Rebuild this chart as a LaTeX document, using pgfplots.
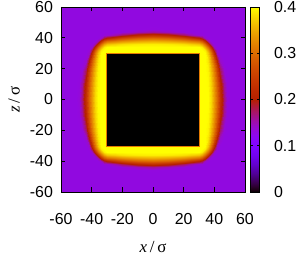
\documentclass[border=0pt]{standalone}
\usepackage{fontspec}
\setmainfont{Liberation Sans}
\newfontfamily\serif{Liberation Serif}
\usepackage{pgfplots}
\pgfplotsset{compat=1.18}
\usepackage{pgfplotstable}
\definecolor{sqedge}{rgb}{0.90,0.48,0.00}
\pgfplotsset{colormap={gp}{
rgb(0pt)=(0,0,0); rgb(1pt)=(0.1,0,0.063); rgb(3pt)=(0.173,0,0.187); rgb(5pt)=(0.224,0,0.309);
rgb(10pt)=(0.316,0.001,0.588); rgb(15pt)=(0.387,0.003,0.809); rgb(20pt)=(0.447,0.008,0.951);
rgb(25pt)=(0.5,0.016,1); rgb(30pt)=(0.548,0.027,0.951); rgb(35pt)=(0.592,0.043,0.809);
rgb(40pt)=(0.632,0.064,0.588); rgb(45pt)=(0.671,0.091,0.309); rgb(50pt)=(0.707,0.125,0);
rgb(55pt)=(0.742,0.166,0); rgb(60pt)=(0.775,0.216,0); rgb(65pt)=(0.806,0.275,0);
rgb(70pt)=(0.837,0.343,0); rgb(75pt)=(0.866,0.422,0); rgb(80pt)=(0.894,0.512,0);
rgb(85pt)=(0.922,0.614,0); rgb(90pt)=(0.949,0.729,0); rgb(95pt)=(0.975,0.857,0);
rgb(100pt)=(1,1,0)}}
% one quadrant of the density field (x>=0, z>=0); the field is mirror symmetric
\pgfplotstableread[row sep=\\]{
x z v\\
0 0 0.4\\ 10 0 0.4\\ 20 0 0.4\\ 25 0 0.4\\ 30 0 0.40\\ 32 0 0.40\\ 34 0 0.40\\ 36 0 0.40\\ 38 0 0.38\\ 40 0 0.34\\ 42 0 0.295\\ 44 0 0.235\\ 46 0 0.168\\ 48 0 0.135\\ 50 0 0.13\\ 52 0 0.13\\ 60 0 0.13\\
0 10 0.4\\ 10 10 0.4\\ 20 10 0.4\\ 25 10 0.4\\ 30 10 0.40\\ 32 10 0.40\\ 34 10 0.40\\ 36 10 0.398\\ 38 10 0.375\\ 40 10 0.334\\ 42 10 0.284\\ 44 10 0.219\\ 46 10 0.157\\ 48 10 0.132\\ 50 10 0.13\\ 52 10 0.13\\ 60 10 0.13\\
0 20 0.4\\ 10 20 0.4\\ 20 20 0.4\\ 25 20 0.4\\ 30 20 0.40\\ 32 20 0.40\\ 34 20 0.40\\ 36 20 0.394\\ 38 20 0.360\\ 40 20 0.314\\ 42 20 0.251\\ 44 20 0.176\\ 46 20 0.135\\ 48 20 0.13\\ 50 20 0.13\\ 52 20 0.13\\ 60 20 0.13\\
0 25 0.4\\ 10 25 0.4\\ 20 25 0.4\\ 25 25 0.4\\ 30 25 0.40\\ 32 25 0.40\\ 34 25 0.40\\ 36 25 0.387\\ 38 25 0.342\\ 40 25 0.285\\ 42 25 0.205\\ 44 25 0.142\\ 46 25 0.13\\ 48 25 0.13\\ 50 25 0.13\\ 52 25 0.13\\ 60 25 0.13\\
0 30 0.4\\ 10 30 0.4\\ 20 30 0.4\\ 25 30 0.4\\ 30 30 0.40\\ 32 30 0.40\\ 34 30 0.40\\ 36 30 0.369\\ 38 30 0.309\\ 40 30 0.224\\ 42 30 0.144\\ 44 30 0.13\\ 46 30 0.13\\ 48 30 0.13\\ 50 30 0.13\\ 52 30 0.13\\ 60 30 0.13\\
0 32 0.4\\ 10 32 0.4\\ 20 32 0.4\\ 25 32 0.4\\ 30 32 0.40\\ 32 32 0.40\\ 34 32 0.389\\ 36 32 0.342\\ 38 32 0.276\\ 40 32 0.186\\ 42 32 0.134\\ 44 32 0.13\\ 46 32 0.13\\ 48 32 0.13\\ 50 32 0.13\\ 52 32 0.13\\ 60 32 0.13\\
0 34 0.4\\ 10 34 0.4\\ 20 34 0.4\\ 25 34 0.4\\ 30 34 0.40\\ 32 34 0.389\\ 34 34 0.351\\ 36 34 0.299\\ 38 34 0.221\\ 40 34 0.144\\ 42 34 0.13\\ 44 34 0.13\\ 46 34 0.13\\ 48 34 0.13\\ 50 34 0.13\\ 52 34 0.13\\ 60 34 0.13\\
0 36 0.391\\ 10 36 0.389\\ 20 36 0.382\\ 25 36 0.373\\ 30 36 0.364\\ 32 36 0.342\\ 34 36 0.299\\ 36 36 0.230\\ 38 36 0.155\\ 40 36 0.13\\ 42 36 0.13\\ 44 36 0.13\\ 46 36 0.13\\ 48 36 0.13\\ 50 36 0.13\\ 52 36 0.13\\ 60 36 0.13\\
0 38 0.352\\ 10 38 0.346\\ 20 38 0.331\\ 25 38 0.317\\ 30 38 0.301\\ 32 38 0.276\\ 34 38 0.221\\ 36 38 0.155\\ 38 38 0.131\\ 40 38 0.13\\ 42 38 0.13\\ 44 38 0.13\\ 46 38 0.13\\ 48 38 0.13\\ 50 38 0.13\\ 52 38 0.13\\ 60 38 0.13\\
0 40 0.301\\ 10 40 0.291\\ 20 40 0.263\\ 25 40 0.238\\ 30 40 0.209\\ 32 40 0.186\\ 34 40 0.144\\ 36 40 0.13\\ 38 40 0.13\\ 40 40 0.13\\ 42 40 0.13\\ 44 40 0.13\\ 46 40 0.13\\ 48 40 0.13\\ 50 40 0.13\\ 52 40 0.13\\ 60 40 0.13\\
0 42 0.231\\ 10 42 0.215\\ 20 42 0.177\\ 25 42 0.153\\ 30 42 0.138\\ 32 42 0.134\\ 34 42 0.13\\ 36 42 0.13\\ 38 42 0.13\\ 40 42 0.13\\ 42 42 0.13\\ 44 42 0.13\\ 46 42 0.13\\ 48 42 0.13\\ 50 42 0.13\\ 52 42 0.13\\ 60 42 0.13\\
0 44 0.157\\ 10 44 0.146\\ 20 44 0.133\\ 25 44 0.13\\ 30 44 0.13\\ 32 44 0.13\\ 34 44 0.13\\ 36 44 0.13\\ 38 44 0.13\\ 40 44 0.13\\ 42 44 0.13\\ 44 44 0.13\\ 46 44 0.13\\ 48 44 0.13\\ 50 44 0.13\\ 52 44 0.13\\ 60 44 0.13\\
0 46 0.131\\ 10 46 0.13\\ 20 46 0.13\\ 25 46 0.13\\ 30 46 0.13\\ 32 46 0.13\\ 34 46 0.13\\ 36 46 0.13\\ 38 46 0.13\\ 40 46 0.13\\ 42 46 0.13\\ 44 46 0.13\\ 46 46 0.13\\ 48 46 0.13\\ 50 46 0.13\\ 52 46 0.13\\ 60 46 0.13\\
0 48 0.13\\ 10 48 0.13\\ 20 48 0.13\\ 25 48 0.13\\ 30 48 0.13\\ 32 48 0.13\\ 34 48 0.13\\ 36 48 0.13\\ 38 48 0.13\\ 40 48 0.13\\ 42 48 0.13\\ 44 48 0.13\\ 46 48 0.13\\ 48 48 0.13\\ 50 48 0.13\\ 52 48 0.13\\ 60 48 0.13\\
0 50 0.13\\ 10 50 0.13\\ 20 50 0.13\\ 25 50 0.13\\ 30 50 0.13\\ 32 50 0.13\\ 34 50 0.13\\ 36 50 0.13\\ 38 50 0.13\\ 40 50 0.13\\ 42 50 0.13\\ 44 50 0.13\\ 46 50 0.13\\ 48 50 0.13\\ 50 50 0.13\\ 52 50 0.13\\ 60 50 0.13\\
0 52 0.13\\ 10 52 0.13\\ 20 52 0.13\\ 25 52 0.13\\ 30 52 0.13\\ 32 52 0.13\\ 34 52 0.13\\ 36 52 0.13\\ 38 52 0.13\\ 40 52 0.13\\ 42 52 0.13\\ 44 52 0.13\\ 46 52 0.13\\ 48 52 0.13\\ 50 52 0.13\\ 52 52 0.13\\ 60 52 0.13\\
0 60 0.13\\ 10 60 0.13\\ 20 60 0.13\\ 25 60 0.13\\ 30 60 0.13\\ 32 60 0.13\\ 34 60 0.13\\ 36 60 0.13\\ 38 60 0.13\\ 40 60 0.13\\ 42 60 0.13\\ 44 60 0.13\\ 46 60 0.13\\ 48 60 0.13\\ 50 60 0.13\\ 52 60 0.13\\ 60 60 0.13\\
}\qtab
\begin{document}
\begin{tikzpicture}
\begin{axis}[name=ax,
  scale only axis, width=184bp, height=185bp,
  xmin=-60, xmax=60, ymin=-60, ymax=60,
  xtick={-60,-40,-20,0,20,40,60}, ytick={-60,-40,-20,0,20,40,60},
  tick align=inside, major tick length=4.5bp,
  every tick/.style={black, line width=0.8bp},
  axis line style={line width=0.8bp},
  axis on top,
  /pgf/number format/assume math mode=true,
  tick label style={font=\fontsize{16}{16}\selectfont},
  xticklabel style={yshift=-18bp},
  yticklabel style={xshift=-4.5bp},
  xlabel={{\serif\itshape x}\,{\serif /}\,{\serif σ}},
  ylabel={{\serif\itshape z}\,{\serif /}\,{\serif σ}},
  label style={font=\fontsize{17}{17}\selectfont},
  xlabel style={at={(axis description cs:0.5,0)}, anchor=north, yshift=-46bp},
  ylabel style={at={(axis description cs:-0.205,0.5)}, anchor=south},
  colormap name=gp, point meta min=0, point meta max=0.4,
  colorbar,
  colorbar style={
    at={(parent axis.north east)}, anchor=north west, xshift=-3.5bp,
    scale only axis, width=9.5bp, height=185bp,
    ytick={0,0.1,0.2,0.3,0.4},
    tick align=inside, major tick length=3bp,
    ytick pos=both, yticklabel pos=right,
    every tick/.style={black, line width=0.8bp},
    axis line style={line width=0.8bp},
    /pgf/number format/assume math mode=true,
    yticklabel style={font=\fontsize{16}{16}\selectfont, xshift=11bp,
      /pgf/number format/fixed, /pgf/number format/precision=1},
  },
]
\addplot[surf, shader=interp, mesh/cols=17, point meta=explicit] table[x=x, y=z, meta=v] {\qtab};
\addplot[surf, shader=interp, mesh/cols=17, point meta=explicit] table[x expr=-\thisrow{x}, y=z, meta=v] {\qtab};
\addplot[surf, shader=interp, mesh/cols=17, point meta=explicit] table[x=x, y expr=-\thisrow{z}, meta=v] {\qtab};
\addplot[surf, shader=interp, mesh/cols=17, point meta=explicit] table[x expr=-\thisrow{x}, y expr=-\thisrow{z}, meta=v] {\qtab};
\addplot[fill=black, draw=sqedge, line width=1bp] coordinates {(-30,-30.3) (30,-30.3) (30,30) (-30,30)} -- cycle;
\end{axis}
\pgfresetboundingbox
\useasboundingbox ([xshift=-61bp,yshift=7bp]ax.north west) rectangle ([xshift=55bp,yshift=-66bp]ax.south east);
\end{tikzpicture}
\end{document}
